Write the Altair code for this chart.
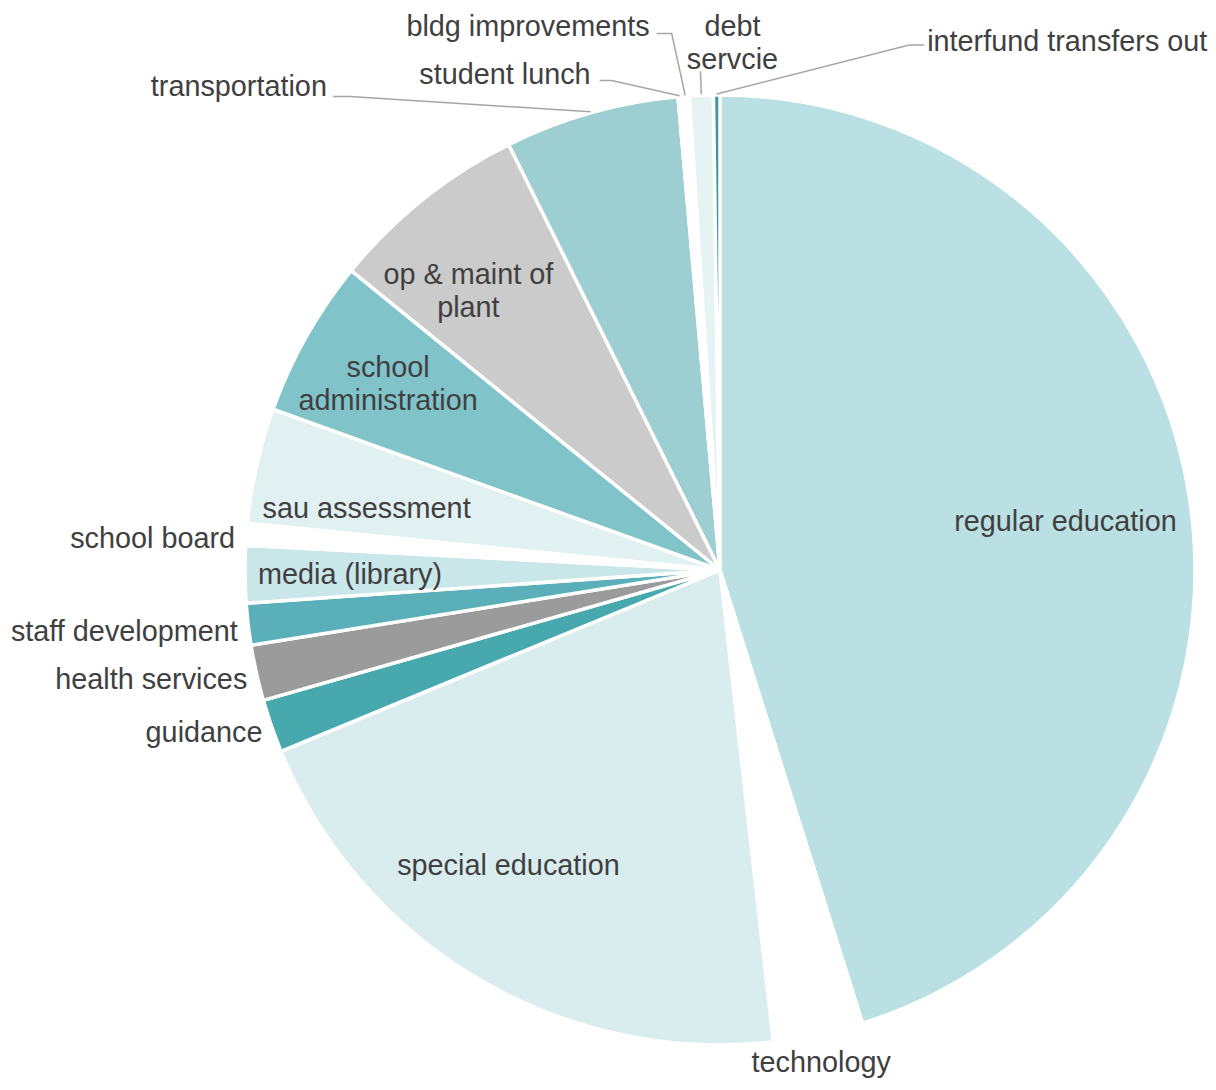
import math
import altair as alt
import pandas as pd

# ---------------- data ----------------
categories = [
    "regular education", "technology", "special education", "guidance",
    "health services", "staff development", "media (library)", "school board",
    "sau assessment", "school administration", "op & maint of plant",
    "transportation", "student lunch", "bldg improvements", "debt servcie",
    "interfund transfers out",
]
values = [45.16, 3.06, 20.56, 1.81, 1.89, 1.42, 1.94, 0.75,
          3.92, 5.36, 6.81, 5.93, 0.11, 0.27, 0.81, 0.22]
label_text = [
    "regular education", "technology", "special education", "guidance",
    "health services", "staff development", "media (library)", "school board",
    "sau assessment", "school|administration", "op & maint of|plant",
    "transportation", "student lunch", "bldg improvements", "debt|servcie",
    "interfund transfers out",
]

# ---------------- styles / layout ----------------
colors = ["#BAE0E3", "#FFFFFF", "#DAEDEE", "#47A8AE", "#9B9B9B", "#5AAFB8",
          "#C9E6E8", "#FFFFFF", "#E1F0F0", "#80C4CA", "#CBCBCB", "#9DCED2",
          "#FFFFFF", "#FFFFFF", "#E6F3F3", "#3F979D"]
# label placement: angle offset from slice middle (deg), radius (px), align
label_da = [0.5, 0.3, 5.2, -0.2, -0.4, -0.55, 0.0, -0.45,
            -2.6, 0.0, -3.2, -23.3, -9.7, -3.15, 3.6, 21.75]
label_r = [349, 501, 362, 485, 485, 486, 370, 486,
           359, 381, 377, 624, 514, 550, 529, 569]
label_align = ["center", "center", "center", "right", "right", "right", "center", "right",
               "center", "center", "center", "right", "right", "right", "center", "left"]
# leader lines: (end dx, end dy relative to label anchor, elbow dx relative to end)
leaders = {
    "transportation": (6, 11, 17),
    "student lunch": (9, 8, 12),
    "bldg improvements": (7, 9, 15),
    "debt servcie": (-32, 30, 0),
    "interfund transfers out": (-3, 5, -15),
}

W, H = 1200, 1070
CX, CY, R = 712, 562, 475
FONT = "Liberation Sans"
FS, LH = 28.8, 33
TEXT_DY = 2

total = sum(values)
mids = []
acc = 0.0
for v in values:
    a0 = acc / total * 360
    acc += v
    a1 = acc / total * 360
    mids.append((a0 + a1) / 2)


def polar(angle_deg, r):
    t = math.radians(angle_deg)
    return CX + r * math.sin(t), CY - r * math.cos(t)


pie_df = pd.DataFrame({"category": categories, "value": values,
                       "idx": list(range(len(values)))})

lab_rows = []
for i, c in enumerate(categories):
    x, y = polar(mids[i] + label_da[i], label_r[i])
    n = label_text[i].count("|") + 1
    lab_rows.append({"category": c, "label": label_text[i], "x": x, "y": y,
                     "ty": y + TEXT_DY - (n - 1) * LH / 2,
                     "align": label_align[i]})
lab_df = pd.DataFrame(lab_rows)

line_rows = []
for c, (ex, ey, el) in leaders.items():
    i = categories.index(c)
    lx, ly = lab_df.loc[i, "x"], lab_df.loc[i, "y"]
    rx, ry = polar(mids[i], R + 1)
    end = (lx + ex, ly + ey)
    elbow = (end[0] + el, end[1])
    for k, (px, py) in enumerate([(rx, ry), elbow, end]):
        line_rows.append({"category": c, "pt": k, "x": px, "y": py})
line_df = pd.DataFrame(line_rows)

pie = alt.Chart(pie_df).mark_arc(
    outerRadius=R, stroke="white", strokeWidth=3.5, strokeJoin="round"
).encode(
    theta=alt.Theta("value:Q", stack=True),
    order=alt.Order("idx:Q"),
    color=alt.Color("category:N", scale=alt.Scale(domain=categories, range=colors), legend=None),
    x=alt.value(CX),
    y=alt.value(CY),
)

lines = alt.Chart(line_df).mark_line(color="#A6A6A6", strokeWidth=1.5).encode(
    x=alt.X("x:Q", scale=None),
    y=alt.Y("y:Q", scale=None),
    detail="category:N",
    order=alt.Order("pt:Q"),
)

texts = []
for al in ["center", "right", "left"]:
    sub = lab_df[lab_df["align"] == al]
    t = alt.Chart(sub).transform_calculate(
        lines="split(datum.label, '|')"
    ).mark_text(
        align=al, baseline="middle", font=FONT, fontSize=FS, color="#404040", lineHeight=LH
    ).encode(
        x=alt.X("x:Q", scale=None),
        y=alt.Y("ty:Q", scale=None),
        text="lines:N",
    )
    texts.append(t)

chart = alt.layer(pie, lines, *texts).properties(
    width=W, height=H, padding=0, autosize="none", background="white"
).configure_view(stroke=None)

chart.save("out.html", embed_options={"renderer": "svg", "actions": False})
